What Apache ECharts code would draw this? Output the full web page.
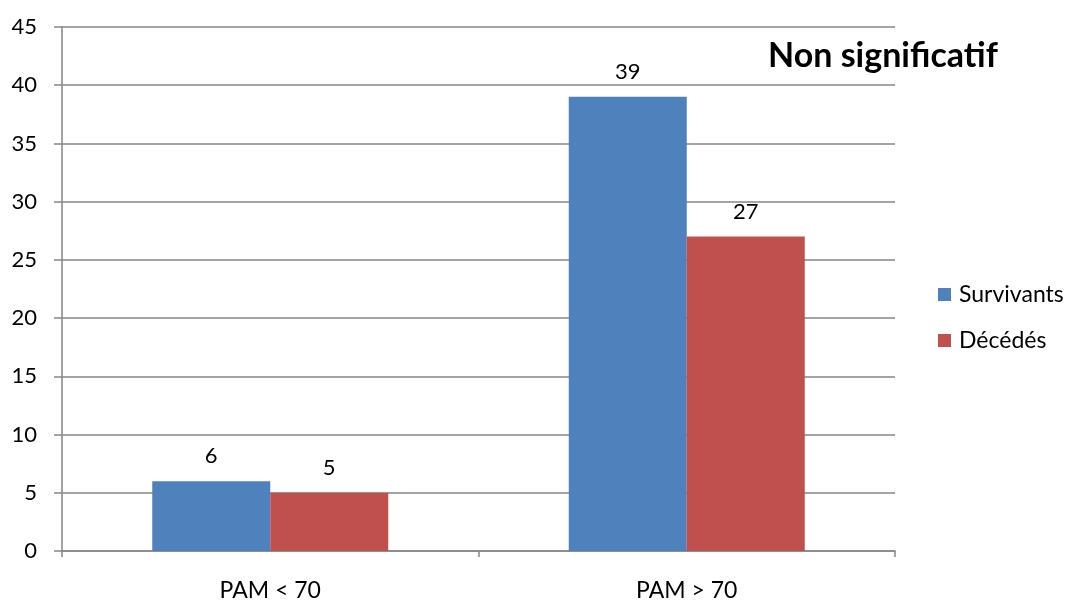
<!DOCTYPE html>
<html>
<head>
<meta charset="utf-8">
<script src="https://cdn.jsdelivr.net/npm/echarts@6/dist/echarts.min.js"></script>
<style>html,body{margin:0;padding:0;background:#fff}#c{width:1073px;height:606px}</style>
</head>
<body>
<div id="c"></div>
<script>
const categories = ['PAM < 70', 'PAM > 70'];
const survivants = [6, 39];
const decedes = [5, 27];
const seriesNames = ['Survivants', 'Décédés'];
const titleText = 'Non significatif';

const font = 'Lato, "Liberation Sans", sans-serif';
const gray = '#868686';
const chart = echarts.init(document.getElementById('c'));
chart.setOption({
  animation: false,
  backgroundColor: '#fff',
  textStyle: { fontFamily: font },
  title: {
    text: titleText,
    left: 763, top: 34,
    textStyle: { fontFamily: font, fontWeight: 'bold', fontSize: 34, color: '#000' }
  },
  legend: {
    orient: 'vertical',
    left: 938, top: 283, padding: 0,
    itemWidth: 13, itemHeight: 13, itemGap: 23,
    icon: 'rect',
    textStyle: { fontFamily: font, fontSize: 23, color: '#000', padding: [0, 0, 0, 3] },
    data: seriesNames
  },
  grid: { left: 62, right: 178, top: 27, bottom: 55, containLabel: false },
  xAxis: {
    type: 'category',
    data: categories,
    axisLine: { lineStyle: { color: gray, width: 1.5 } },
    axisTick: { show: true, length: 6, lineStyle: { color: gray, width: 1.5 } },
    axisLabel: { fontFamily: font, fontSize: 23, color: '#000', margin: 28 }
  },
  yAxis: {
    type: 'value',
    min: 0, max: 45, interval: 5,
    axisLine: { show: true, lineStyle: { color: gray, width: 1.5 } },
    axisTick: { show: true, length: 8, lineStyle: { color: gray, width: 1.5 } },
    splitLine: { lineStyle: { color: gray, width: 1.5 } },
    axisLabel: { fontFamily: font, fontSize: 22, color: '#000', margin: 25 }
  },
  series: [
    {
      name: seriesNames[0], type: 'bar', data: survivants,
      barWidth: 118, barGap: '0%',
      itemStyle: { color: '#4F81BD' },
      label: { show: true, position: 'top', distance: 14, fontFamily: font, fontSize: 22, color: '#000' }
    },
    {
      name: seriesNames[1], type: 'bar', data: decedes,
      barWidth: 118, barGap: '0%',
      itemStyle: { color: '#C0504D' },
      label: { show: true, position: 'top', distance: 14, fontFamily: font, fontSize: 22, color: '#000' }
    }
  ]
});
</script>
</body>
</html>
